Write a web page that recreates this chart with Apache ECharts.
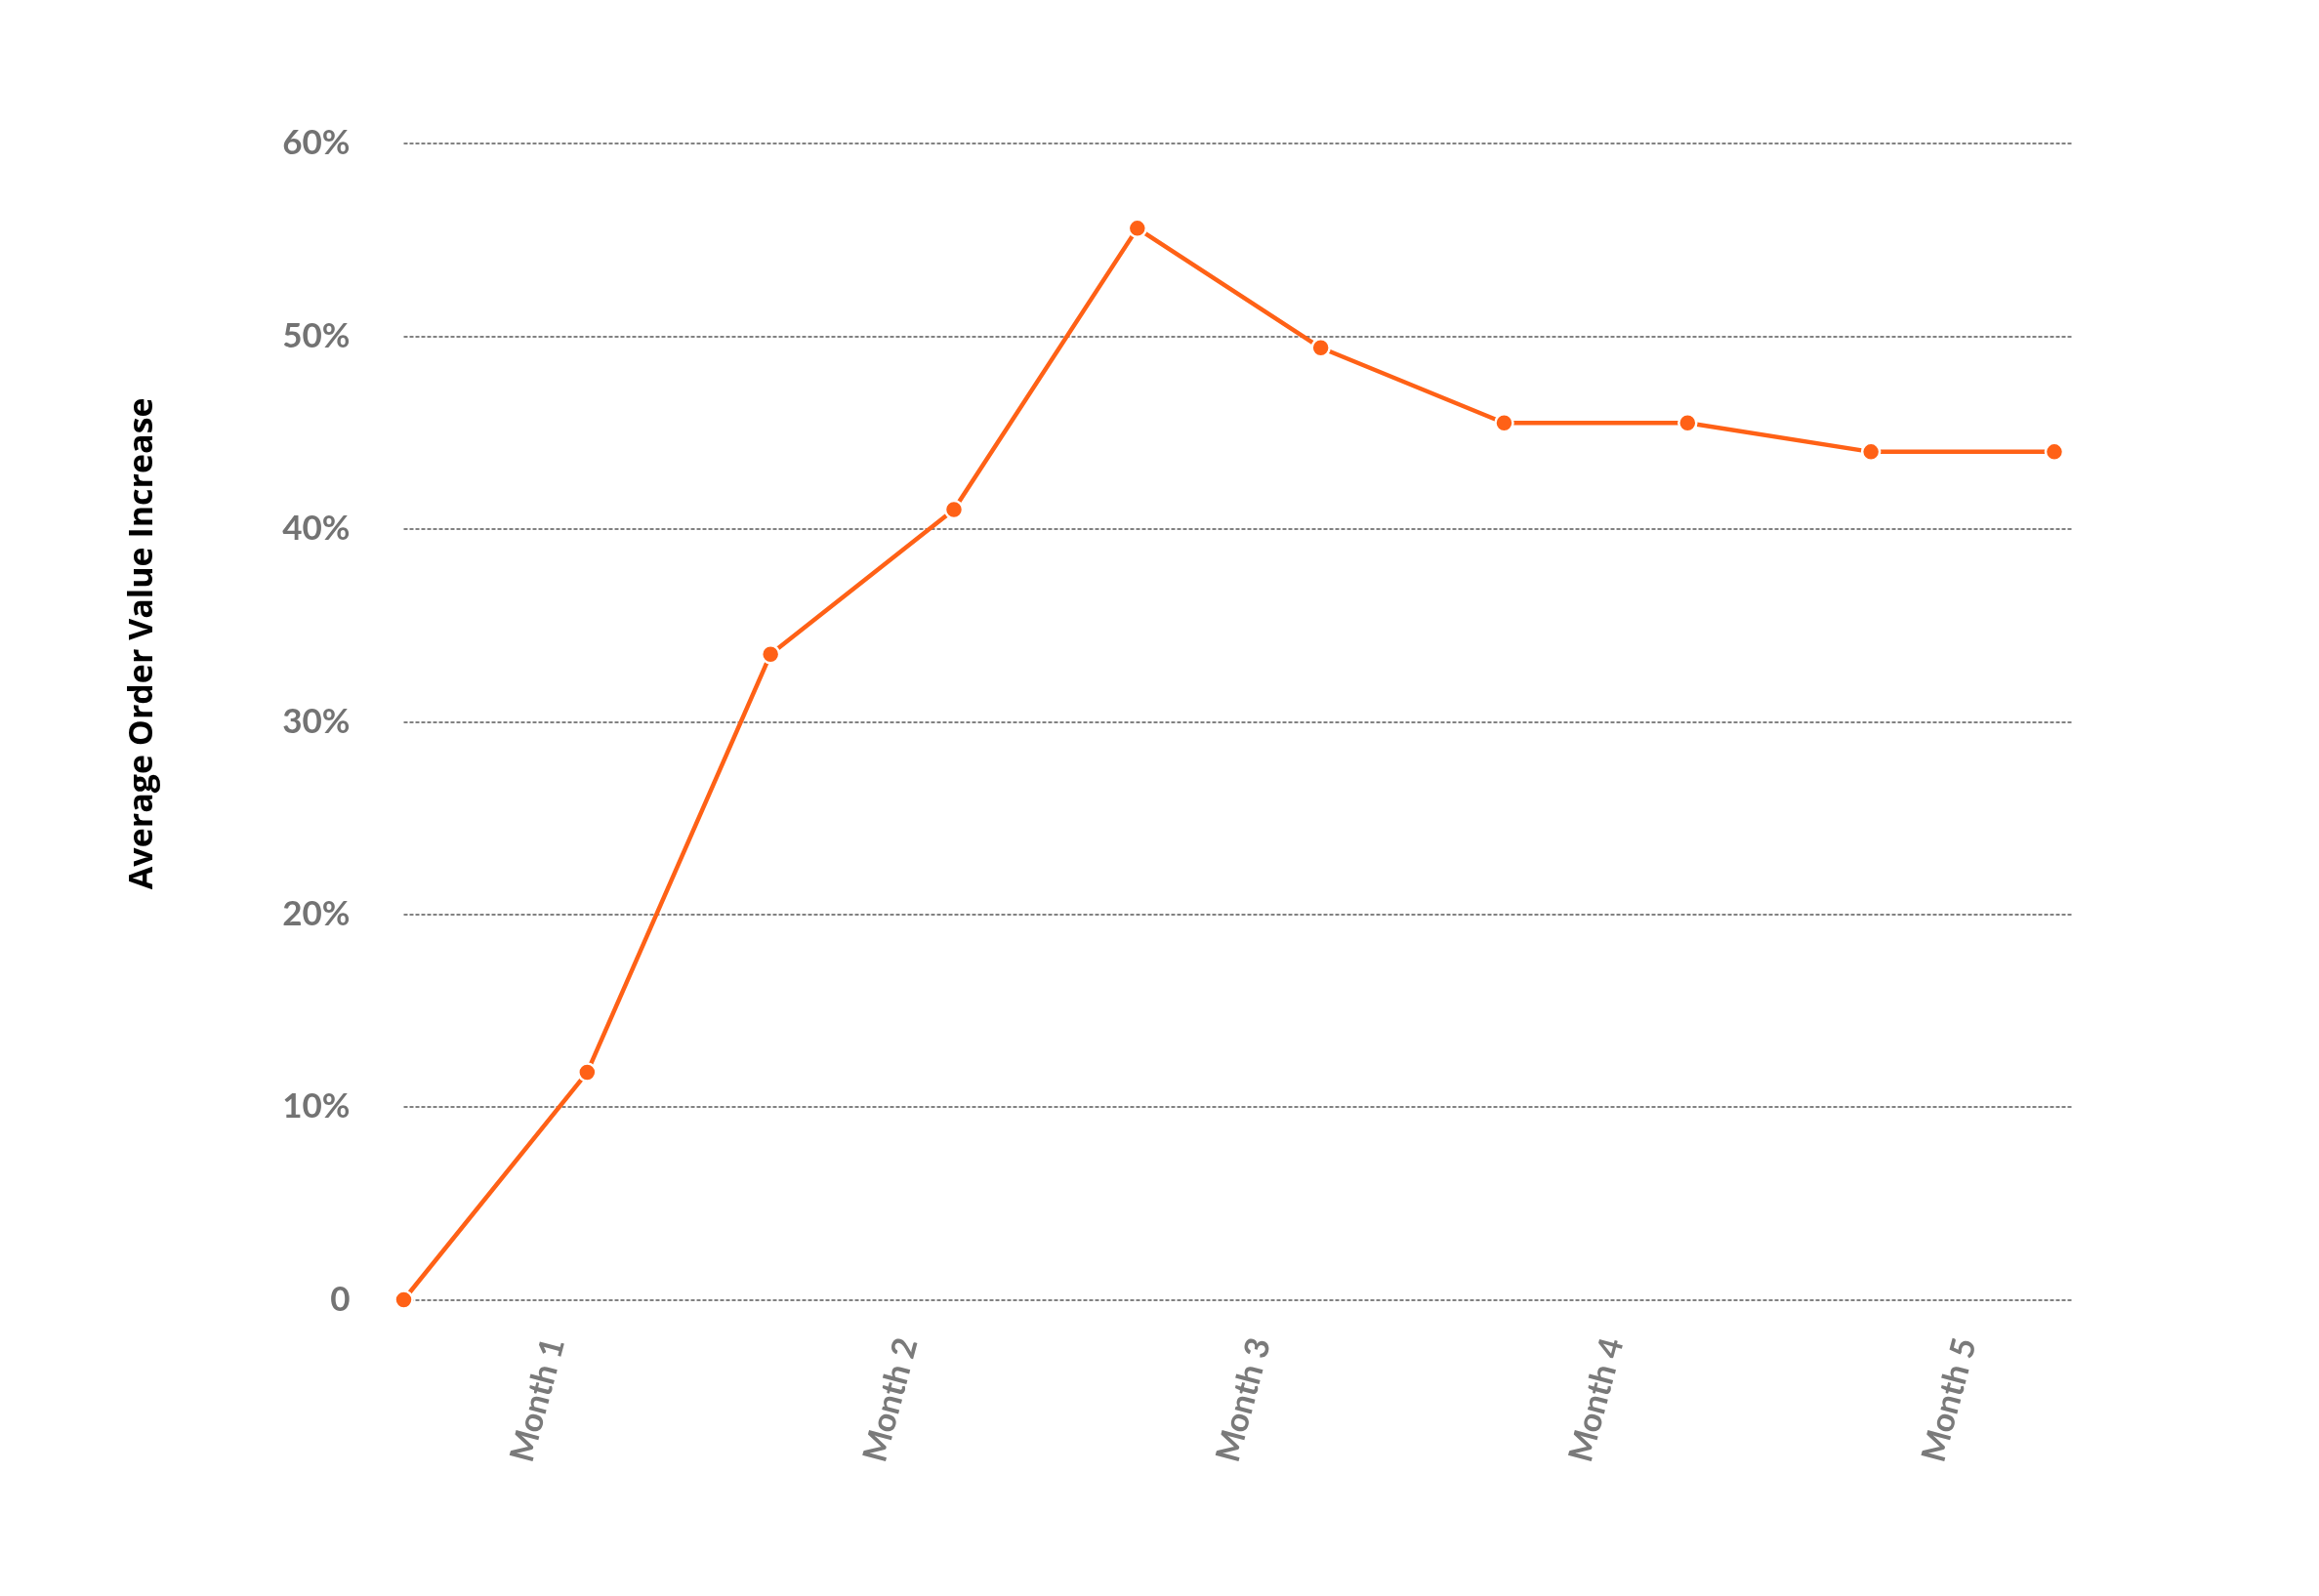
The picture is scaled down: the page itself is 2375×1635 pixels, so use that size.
<!DOCTYPE html>
<html>
<head>
<meta charset="utf-8">
<title>Average Order Value Increase</title>
<script src="https://cdn.jsdelivr.net/npm/echarts@6/dist/echarts.min.js"></script>
<style>
    html, body {
        margin: 0;
        padding: 0;
        background: #fff;
    }

    #chart {
        width: 2375px;
        height: 1635px;
    }
</style>
</head>
<body>
<div id="chart"></div>
<script>
// data points (one every half step along the month scale)
const steps = [0, 1, 2, 3, 4, 5, 6, 7, 8, 9];
const aovIncrease = [0, 11.8, 33.5, 41.0, 55.6, 49.4, 45.5, 45.5, 44.0, 44.0];
const monthTicks = [1, 2, 3, 4, 5];
const yAxisTitle = 'Average Order Value Increase';

const lineColor = '#ff6116';
const fontFamily = 'Lato, "Noto Sans", sans-serif';

var chart = echarts.init(document.getElementById('chart'));

var option = {
    backgroundColor: '#ffffff',
    animation: false,
    grid: {
        left: 413.5,
        right: 253,
        top: 147,
        bottom: 303.5
    },
    xAxis: [
        {
            type: 'value',
            position: 'bottom',
            min: 0,
            max: 9.096,
            show: false
        },
        {
            // month labels, spaced on their own scale
            type: 'value',
            position: 'bottom',
            min: 0.573,
            max: 5.3,
            axisLine: { show: false },
            axisTick: { show: false },
            splitLine: { show: false },
            axisLabel: {
                customValues: monthTicks,
                formatter: 'Month {value}',
                rotate: 75,
                margin: 40,
                color: '#7a7a7a',
                fontSize: 34,
                fontWeight: 'bold',
                fontFamily: fontFamily
            }
        }
    ],
    yAxis: {
        type: 'value',
        min: 0,
        max: 60,
        interval: 10,
        name: yAxisTitle,
        nameLocation: 'middle',
        nameGap: 250,
        nameTextStyle: {
            color: '#000',
            fontSize: 34,
            fontWeight: 'bold',
            fontFamily: '"Open Sans", Lato, sans-serif',
            padding: [0, 0, 0, 160]
        },
        axisLine: { show: false },
        axisTick: { show: false },
        axisLabel: {
            margin: 55,
            color: '#737373',
            fontSize: 35,
            fontWeight: 'bold',
            fontFamily: fontFamily,
            formatter: function(v) {
                return v === 0 ? '0' : v + '%';
            }
        },
        splitLine: {
            lineStyle: {
                color: '#5a5a5a',
                width: 1.5,
                type: [4, 2]
            }
        }
    },
    series: [
        {
            type: 'line',
            xAxisIndex: 0,
            data: steps.map(function(s, i) {
                return [s, aovIncrease[i]];
            }),
            symbol: 'circle',
            symbolSize: 18,
            clip: false,
            lineStyle: {
                color: lineColor,
                width: 4.5
            },
            itemStyle: {
                color: lineColor,
                borderColor: '#fff',
                borderWidth: 2.5
            }
        }
    ]
};

chart.setOption(option);
</script>
</body>
</html>
